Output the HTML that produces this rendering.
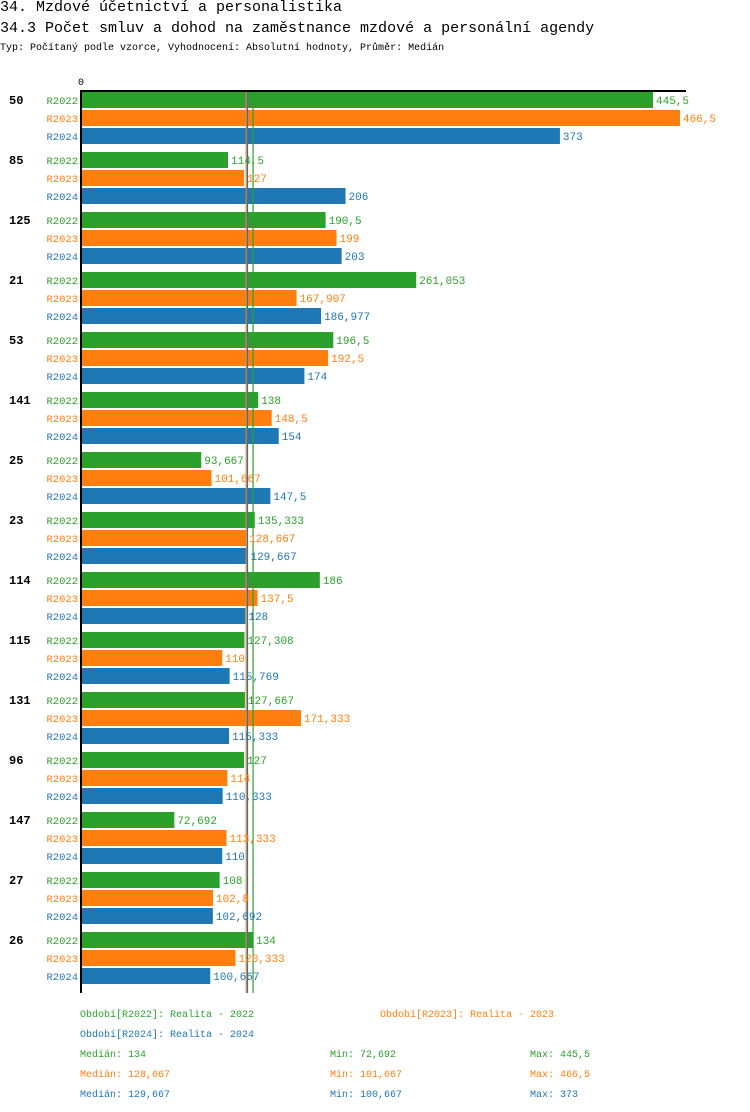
<!DOCTYPE html>
<html><head><meta charset="utf-8"><style>
body{margin:0;background:#fff;width:750px;height:1112px;overflow:hidden;font-family:"Liberation Mono",monospace}
.t{position:absolute;white-space:pre;left:0}
</style></head><body>
<div class="t" style="top:-1px;font-size:15px;">34. Mzdové účetnictví a personalistika</div>
<div class="t" style="top:20px;font-size:15px;">34.3 Počet smluv a dohod na zaměstnance mzdové a personální agendy</div>
<div class="t" style="top:43px;font-size:10px;">Typ: Počítaný podle vzorce, Vyhodnocení: Absolutní hodnoty, Průměr: Medián</div>
<svg id="c" width="750" height="1112" style="position:absolute;left:0;top:0" font-family="Liberation Mono, monospace"></svg>
<script>
const categories=["50","85","125","21","53","141","25","23","114","115","131","96","147","27","26"];
const r2022=[445.5,114.5,190.5,261.053,196.5,138,93.667,135.333,186,127.308,127.667,127,72.692,108,134];
const r2023=[466.5,127,199,167.907,192.5,148.5,101.667,128.667,137.5,110,171.333,114,113.333,102.8,120.333];
const r2024=[373,206,203,186.977,174,154,147.5,129.667,128,115.769,115.333,110.333,110,102.692,100.667];
const seriesNames=["R2022","R2023","R2024"];
const medians=[134,128.667,129.667];
const mins=["72,692","101,667","100,667"];
const maxs=["445,5","466,5","373"];
const colors=["#2ca02c","#ff7f0e","#1f77b4"];
const svg=document.getElementById('c');const NS="http://www.w3.org/2000/svg";
const x=v=>81+v*1.284;
const gy=i=>92+i*60;
function mk(t,a,p){const e=document.createElementNS(NS,t);for(const k in a)e.setAttribute(k,a[k]);(p||svg).appendChild(e);return e;}
const fmt=v=>String(+v.toFixed(3)).replace('.',',');
const all=[r2022,r2023,r2024];
let e;
e=mk('text',{x:78,y:85,'font-size':10});e.textContent="0";


const labels=[];
categories.forEach((c,i)=>{
  e=mk('text',{x:9,y:gy(i)+12,'font-size':12,'font-weight':'bold'});e.textContent=c;
  
  
  all.forEach((s,j)=>{
    const y=gy(i)+j*18;
    e=mk('text',{x:78,y:y+12,'font-size':10.5,'text-anchor':'end',fill:colors[j]});e.textContent=seriesNames[j];
    
    
    e=mk('rect',{x:81,y:y,width:x(s[i])-81,height:16,fill:colors[j]});
    
    
  });
});
medians.forEach((m,j)=>{
  e=mk('line',{x1:x(m),x2:x(m),y1:92,y2:993,stroke:colors[j],'stroke-width':1.2});
  
  
});
categories.forEach((c,i)=>{
  all.forEach((s,j)=>{
    const y=gy(i)+j*18;
    e=mk('text',{x:x(s[i])+3,y:y+12,'font-size':11,fill:colors[j]});e.textContent=fmt(s[i]);
    
    
  });
});
e=mk('line',{x1:80,x2:686,y1:91,y2:91,stroke:'#000','stroke-width':2});


e=mk('line',{x1:81,x2:81,y1:90,y2:993,stroke:'#000','stroke-width':2});


const leg=[[80,1017,"Období[R2022]: Realita - 2022",0],[380,1017,"Období[R2023]: Realita - 2023",1],[80,1037,"Období[R2024]: Realita - 2024",2]];
leg.forEach(l=>{e=mk('text',{x:l[0],y:l[1],'font-size':10,fill:colors[l[3]]});e.textContent=l[2];
  
  });
medians.forEach((m,j)=>{const y=1057+j*20;
  e=mk('text',{x:80,y:y,'font-size':10,fill:colors[j]});e.textContent="Medián: "+fmt(m);
  
  
  e=mk('text',{x:330,y:y,'font-size':10,fill:colors[j]});e.textContent="Min: "+mins[j];
  
  
  e=mk('text',{x:530,y:y,'font-size':10,fill:colors[j]});e.textContent="Max: "+maxs[j];
  
  
});
</script>
</body></html>
